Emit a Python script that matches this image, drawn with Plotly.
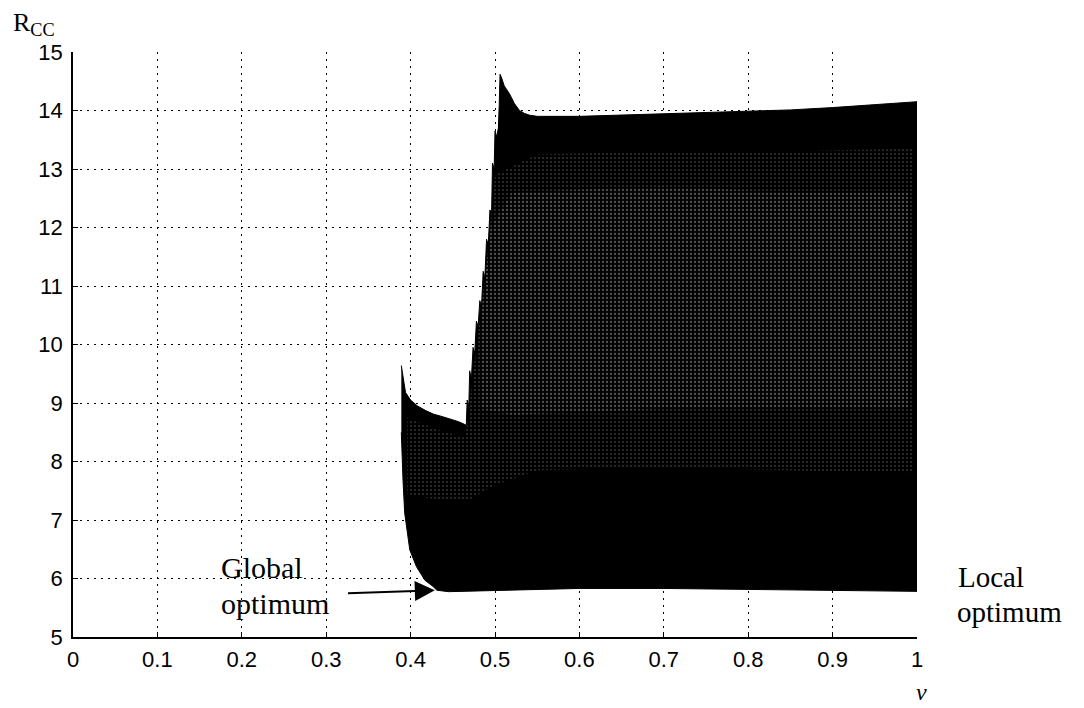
import plotly.graph_objects as go

# ---- data ----
x_ticks = [0, 0.1, 0.2, 0.3, 0.4, 0.5, 0.6, 0.7, 0.8, 0.9, 1.0]
x_tick_labels = ["0", "0.1", "0.2", "0.3", "0.4", "0.5", "0.6", "0.7", "0.8", "0.9", "1"]
y_ticks = [5, 6, 7, 8, 9, 10, 11, 12, 13, 14, 15]

# upper envelope of the family of R_CC curves (left to right)
upper_x = [0.389, 0.391, 0.394, 0.400, 0.408, 0.418, 0.427, 0.437, 0.447, 0.457, 0.466,
           0.467, 0.469, 0.470, 0.472, 0.474, 0.476, 0.478, 0.480, 0.482, 0.484, 0.486,
           0.488, 0.490, 0.492, 0.494, 0.496, 0.497, 0.499, 0.500, 0.502, 0.504, 0.505,
           0.506, 0.508, 0.511, 0.517, 0.523, 0.529, 0.535, 0.541, 0.550, 0.600, 0.650,
           0.700, 0.750, 0.800, 0.850, 0.900, 0.950, 1.000]
upper_y = [9.64, 9.45, 9.18, 9.05, 8.95, 8.87, 8.81, 8.77, 8.73, 8.68, 8.62,
           9.05, 8.95, 9.55, 9.40, 9.95, 9.85, 10.40, 10.30, 10.75, 10.65, 11.25,
           11.15, 11.80, 11.70, 12.30, 12.25, 13.10, 13.00, 13.65, 13.55, 13.70, 14.10,
           14.62, 14.55, 14.42, 14.29, 14.12, 14.00, 13.95, 13.92, 13.90, 13.90, 13.92,
           13.94, 13.96, 13.98, 14.01, 14.05, 14.10, 14.15]

# lower envelope (right to left)
lower_x = [1.000, 0.950, 0.900, 0.850, 0.800, 0.700, 0.600, 0.500, 0.460, 0.445, 0.431,
           0.427, 0.417, 0.407, 0.399, 0.393, 0.391, 0.389]
lower_y = [5.78, 5.79, 5.80, 5.81, 5.82, 5.83, 5.83, 5.80, 5.78, 5.775, 5.80,
           5.86, 5.97, 6.20, 6.49, 7.12, 7.68, 8.50]

# zone where the individual mesh lines are still distinguishable (closed outline)
mesh_x = [0.396, 0.430, 0.465, 0.475, 0.490, 0.500, 0.550, 0.700, 0.850, 0.995,
          0.995, 0.850, 0.700, 0.550, 0.500, 0.470, 0.430, 0.396]
mesh_y = [8.75, 8.55, 8.40, 9.60, 11.40, 12.90, 13.25, 13.30, 13.30, 13.35,
          7.80, 7.85, 7.90, 7.85, 7.60, 7.35, 7.35, 7.45]

# zone where the mesh is most open (closed outline)
open_x = [0.482, 0.495, 0.520, 0.700, 0.850, 0.990, 0.990, 0.850, 0.700, 0.520, 0.482]
open_y = [10.20, 12.00, 12.60, 12.70, 12.60, 12.60, 8.90, 8.90, 8.90, 8.80, 8.90]

# annotation arrows (tail -> tip) in data units
global_tip = (0.4287, 5.80)
global_tail = (0.324, 5.747)
local_tip = (1.003, 5.75)
local_tail = (1.0385, 5.205)

# ---- figure ----
OFF = 8  # default body margin of the html page
W, H = 1084 - OFF, 708 - OFF
L, T = 73 - OFF, 52 - OFF
PW, PH = 844, 585
R, B = W - L - PW, H - T - PH


def px(xp):  # screen pixel -> paper x
    return (xp - OFF - L) / PW


def py(yp):  # screen pixel -> paper y
    return (T + PH - (yp - OFF)) / PH


fig = go.Figure()
fig.add_trace(go.Scatter(
    x=upper_x + lower_x,
    y=upper_y + lower_y,
    mode="lines",
    fill="toself",
    fillcolor="black",
    line=dict(color="black", width=1),
    hoverinfo="skip",
    showlegend=False,
))
for zx, zy, fg, sol in [(mesh_x, mesh_y, "#6a6a6a", 0.2),
                        (open_x, open_y, "#a8a8a8", 0.25)]:
    fig.add_trace(go.Scatter(
        x=zx,
        y=zy,
        mode="none",
        fill="toself",
        fillcolor="black",
        fillpattern=dict(shape=".", bgcolor="black", fgcolor=fg,
                         size=4, solidity=sol),
        hoverinfo="skip",
        showlegend=False,
    ))

serif = "Liberation Serif, Times New Roman, serif"
sans = "Liberation Sans, Arial, Helvetica, sans-serif"

axis_common = dict(
    showline=True, linecolor="black", linewidth=1.5, mirror=False,
    ticks="inside", ticklen=5, tickwidth=1, tickcolor="black",
    showgrid=True, gridcolor="black", gridwidth=1.3, griddash="2px,5px",
    zeroline=False,
    tickfont=dict(family=sans, size=22, color="black"),
)

fig.update_xaxes(range=[0, 1], tickmode="array", tickvals=x_ticks, ticktext=x_tick_labels,
                 ticklabelstandoff=2, **axis_common)
fig.update_yaxes(range=[5, 15], tickmode="array", tickvals=y_ticks,
                 ticktext=[str(v) for v in y_ticks], ticklabelstandoff=4, **axis_common)

annots = [
    dict(text="R<sub>CC</sub>", x=px(12), y=py(24), xanchor="left", yanchor="middle",
         font=dict(family=serif, size=26, color="black")),
    dict(text="Global", x=px(220), y=py(567), xanchor="left", yanchor="middle",
         font=dict(family=serif, size=30, color="black")),
    dict(text="optimum", x=px(220), y=py(603), xanchor="left", yanchor="middle",
         font=dict(family=serif, size=30, color="black")),
    dict(text="Local", x=px(957), y=py(577), xanchor="left", yanchor="middle",
         font=dict(family=serif, size=29, color="black")),
    dict(text="optimum", x=px(956), y=py(612), xanchor="left", yanchor="middle",
         font=dict(family=serif, size=29, color="black")),
    dict(text="<i>ν</i>", x=px(921), y=py(692), xanchor="center", yanchor="middle",
         font=dict(family=serif, size=24, color="black")),
]
for a in annots:
    a.update(xref="paper", yref="paper", showarrow=False, borderpad=0)
    fig.add_annotation(**a)

for tip, tail in [(global_tip, global_tail), (local_tip, local_tail)]:
    fig.add_annotation(x=tip[0], y=tip[1], ax=tail[0], ay=tail[1],
                       xref="x", yref="y", axref="x", ayref="y",
                       text="", showarrow=True, arrowhead=2, arrowsize=2,
                       arrowwidth=2, arrowcolor="black")

fig.update_layout(
    width=W, height=H,
    margin=dict(l=L, r=R, t=T, b=B),
    plot_bgcolor="white", paper_bgcolor="white",
    showlegend=False,
)

fig.write_html("out.html")
